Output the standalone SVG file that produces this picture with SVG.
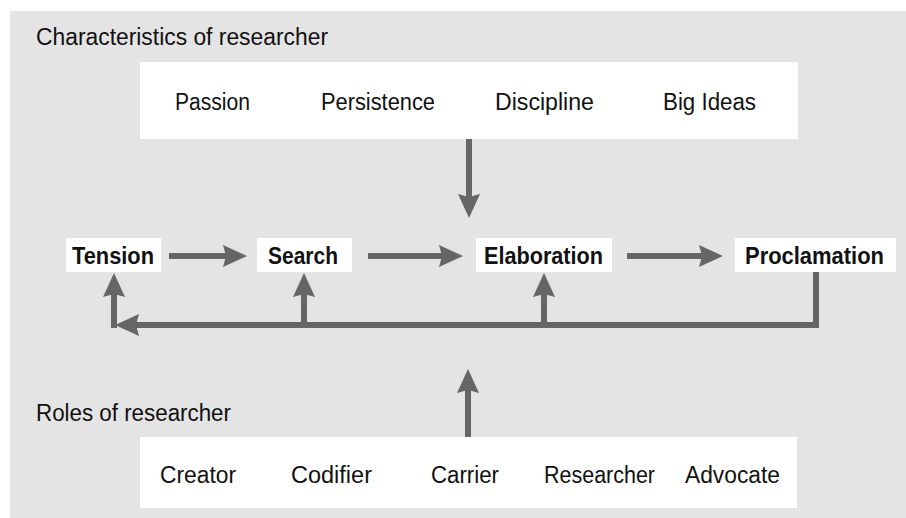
<svg xmlns="http://www.w3.org/2000/svg" width="906" height="518" viewBox="0 0 906 518">
<defs>
<style>
.t{font-family:"Liberation Sans Narrow","Liberation Sans",Arial,sans-serif;font-size:23.5px;fill:#111;}
.b{font-weight:bold;font-size:23px;}
.box{fill:#fff;}
.c{fill:none;stroke:#666;stroke-width:6;}
</style>
<marker id="ah" markerUnits="userSpaceOnUse" viewBox="0 0 24 22" refX="12" refY="11" markerWidth="24" markerHeight="22" orient="auto">
<path d="M0,0 L24,11 L0,22 L3,11 z" fill="#666"/>
</marker>
</defs>
<rect x="10" y="11" width="896" height="507" fill="#e4e4e4"/>
<g id="title-characteristics"><text class="t" x="36" y="45" textLength="292" lengthAdjust="spacingAndGlyphs">Characteristics of researcher</text></g>
<g id="characteristics">
<rect class="box" x="140" y="62" width="658" height="77"/>
<text class="t" x="175" y="110" textLength="75" lengthAdjust="spacingAndGlyphs">Passion</text>
<text class="t" x="321" y="110" textLength="114" lengthAdjust="spacingAndGlyphs">Persistence</text>
<text class="t" x="495" y="110" textLength="99" lengthAdjust="spacingAndGlyphs">Discipline</text>
<text class="t" x="663" y="110" textLength="93" lengthAdjust="spacingAndGlyphs">Big Ideas</text>
</g>
<g id="tension"><rect class="box" x="66" y="238" width="95" height="34"/><text class="t b" x="72" y="264" textLength="82" lengthAdjust="spacingAndGlyphs">Tension</text></g>
<g id="search"><rect class="box" x="257" y="238" width="95" height="34"/><text class="t b" x="268" y="264" textLength="70" lengthAdjust="spacingAndGlyphs">Search</text></g>
<g id="elaboration"><rect class="box" x="476" y="238" width="136" height="34"/><text class="t b" x="484" y="264" textLength="119" lengthAdjust="spacingAndGlyphs">Elaboration</text></g>
<g id="proclamation"><rect class="box" x="735" y="238" width="161" height="34"/><text class="t b" x="745" y="264" textLength="139" lengthAdjust="spacingAndGlyphs">Proclamation</text></g>
<g id="title-roles"><text class="t" x="36" y="421" textLength="195" lengthAdjust="spacingAndGlyphs">Roles of researcher</text></g>
<g id="roles">
<rect class="box" x="140" y="437" width="657" height="71"/>
<text class="t" x="160" y="483" textLength="76" lengthAdjust="spacingAndGlyphs">Creator</text>
<text class="t" x="291" y="483" textLength="81" lengthAdjust="spacingAndGlyphs">Codifier</text>
<text class="t" x="431" y="483" textLength="68" lengthAdjust="spacingAndGlyphs">Carrier</text>
<text class="t" x="544" y="483" textLength="111" lengthAdjust="spacingAndGlyphs">Researcher</text>
<text class="t" x="685" y="483" textLength="95" lengthAdjust="spacingAndGlyphs">Advocate</text>
</g>
<g id="connectors">
<line class="c" x1="169" y1="256" x2="235" y2="256" marker-end="url(#ah)"/>
<line class="c" x1="368" y1="256" x2="451" y2="256" marker-end="url(#ah)"/>
<line class="c" x1="627" y1="256" x2="711" y2="256" marker-end="url(#ah)"/>
<line class="c" x1="469" y1="139" x2="469" y2="206" marker-end="url(#ah)"/>
<line class="c" x1="468" y1="437" x2="468" y2="381" marker-end="url(#ah)"/>
<polyline class="c" points="816,272 816,325 127,325" marker-end="url(#ah)"/>
<line class="c" x1="114" y1="328" x2="114" y2="285" marker-end="url(#ah)"/>
<line class="c" x1="304" y1="325" x2="304" y2="285" marker-end="url(#ah)"/>
<line class="c" x1="544" y1="325" x2="544" y2="285" marker-end="url(#ah)"/>
</g>
</svg>
